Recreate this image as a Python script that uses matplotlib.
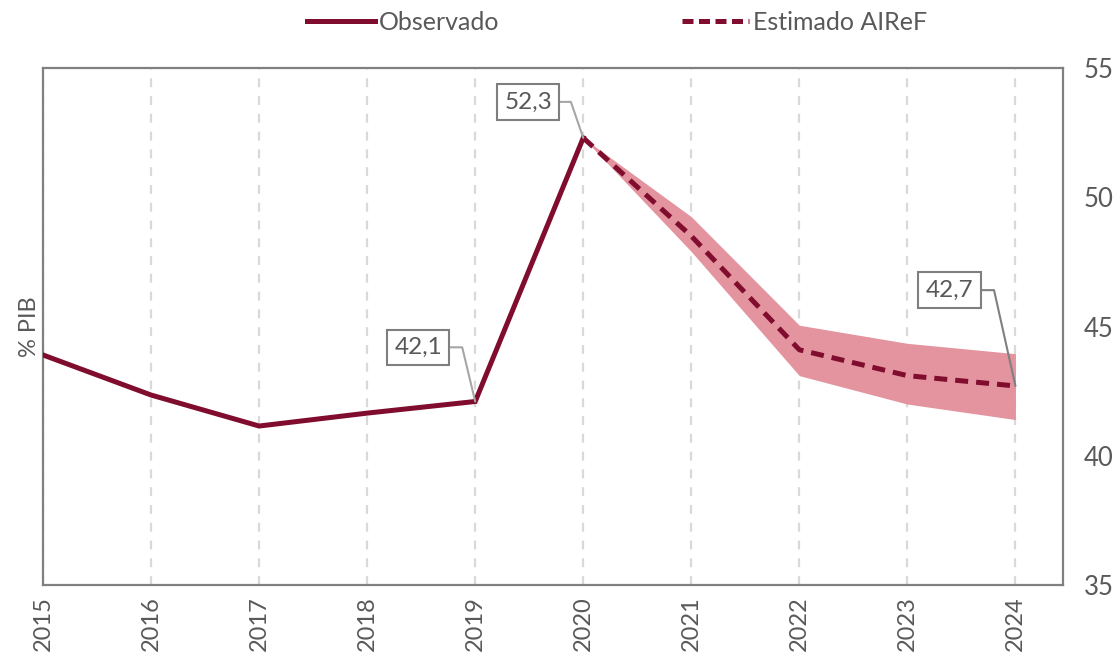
import matplotlib
matplotlib.use("Agg")
import matplotlib.pyplot as plt
from matplotlib.lines import Line2D

plt.rcParams['font.family'] = ['Lato', 'DejaVu Sans']

years = [2015, 2016, 2017, 2018, 2019, 2020, 2021, 2022, 2023, 2024]
obs_years = [2015, 2016, 2017, 2018, 2019, 2020]
obs_values = [43.9, 42.35, 41.15, 41.65, 42.1, 52.3]
est_years = [2020, 2021, 2022, 2023, 2024]
est_values = [52.3, 48.5, 44.1, 43.1, 42.7]
est_upper = [52.3, 49.25, 45.05, 44.35, 43.95]
est_lower = [52.3, 47.9, 43.1, 42.0, 41.4]
labels = {2020: "52,3", 2019: "42,1", 2024: "42,7"}
y_ticks = [35, 40, 45, 50, 55]

LINE = '#800C2E'
BAND = '#E3949E'
GRAY = '#595959'

fig = plt.figure(figsize=(11.2, 6.61), dpi=100)
ax = fig.add_axes([0.0384, 0.115, 0.9107, 0.782])

ax.fill_between(est_years, est_lower, est_upper, color=BAND, lw=0, zorder=2)
ax.plot(obs_years, obs_values, color=LINE, lw=3.6, zorder=4, solid_joinstyle='miter')
ax.plot(est_years, est_values, color=LINE, lw=3.6, ls=(0, (2.6, 1.6)), zorder=4)

for x in years:
    ax.axvline(x, color='#D9D9D9', lw=1.6, ls=(0, (4, 4)), zorder=1)

ax.set_xlim(2015, 2024.44)
ax.set_ylim(35, 55)
ax.set_xticks(years)
ax.set_xticklabels([str(y) for y in years], rotation=90, fontsize=17, color=GRAY)
ax.yaxis.tick_right()
ax.set_yticks(y_ticks)
ax.set_yticklabels([str(v) for v in y_ticks], fontsize=18.5, color=GRAY)
ax.tick_params(axis='both', length=0)
ax.tick_params(axis='y', pad=15)
ax.tick_params(axis='x', pad=8)
for s in ax.spines.values():
    s.set_color('#808080')
    s.set_linewidth(1.6)
ax.set_ylabel('% PIB', fontsize=17, color=GRAY, labelpad=2)

ann = {
    2020: ((-39.6, 25.9), -71, '#A6A6A6'),
    2019: ((-41, 39), -76.5, '#A6A6A6'),
    2024: ((-47.5, 69), -77.4, '#808080'),
}
allv = dict(zip(obs_years, obs_values))
allv.update(dict(zip(est_years, est_values)))
for yr, txt in labels.items():
    off, angB, lc = ann[yr]
    ax.annotate(txt, xy=(yr, allv[yr]), xytext=off, textcoords='offset points',
                ha='center', va='center', fontsize=17.5, color=GRAY, zorder=6,
                bbox=dict(boxstyle='square,pad=0.3', fc='white', ec='#7F7F7F', lw=1.5),
                arrowprops=dict(arrowstyle='-', color=lc, lw=1.5, shrinkA=0, shrinkB=0,
                                connectionstyle=f'angle,angleA=0,angleB={angB},rad=0'))

handles = [Line2D([], [], color=LINE, lw=3.6),
           Line2D([], [], color=LINE, lw=3.6, ls=(0, (2.2, 1.1)))]
fig.legend(handles, ['Observado', 'Estimado AIReF'], loc='center', bbox_to_anchor=(0.551, 0.966),
           ncol=2, frameon=False, fontsize=18, handlelength=2.7, handletextpad=0.15,
           columnspacing=7.3, labelcolor=GRAY)

fig.savefig('out.png', dpi=100)
